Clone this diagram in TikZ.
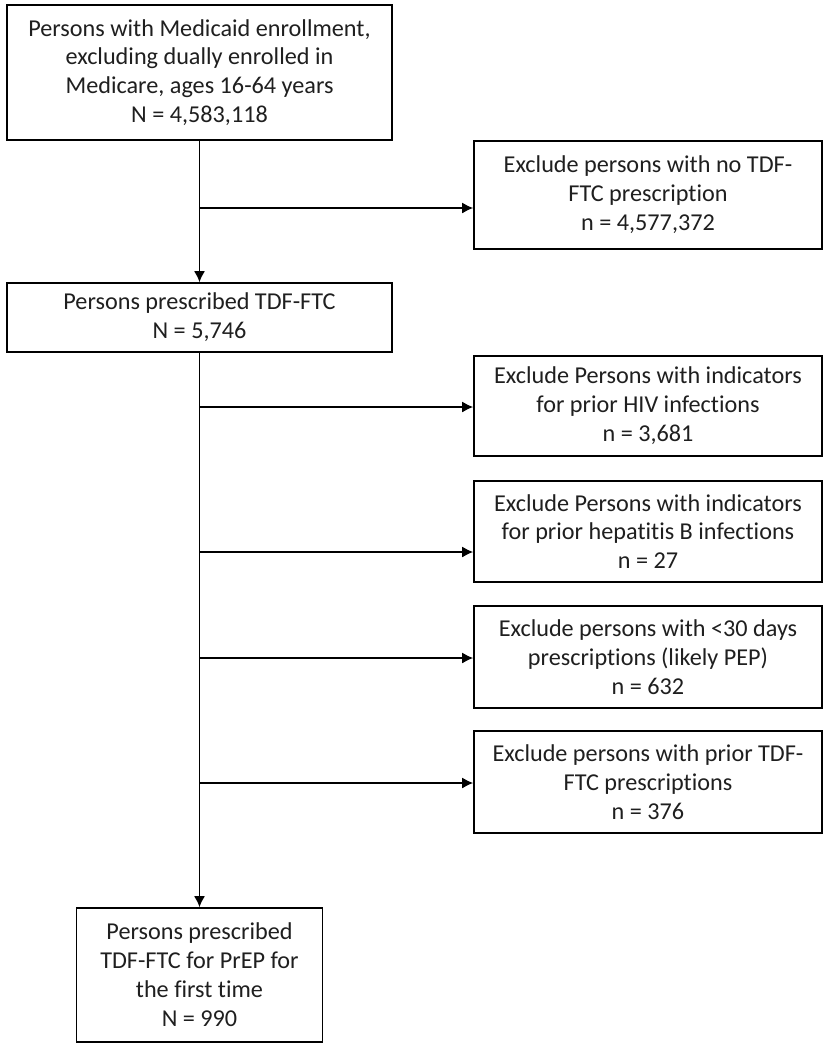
\documentclass[tikz,border=0pt]{standalone}
\usepackage{fontspec}
\setmainfont[Ligatures=NoCommon]{Carlito}
\usetikzlibrary{arrows.meta}
\tikzset{
  flow box/.style={
    draw,
    line width=1.6bp,
    rectangle,
    inner sep=0pt,
    align=center,
    text=black!88,
    font=\fontsize{24.3}{29}\selectfont,
  },
  flow line/.style={
    line width=1.6bp,
    -{Latex[length=11bp, width=11bp]},
  },
}

\begin{document}
\begin{tikzpicture}[y=-1bp, x=1bp]
        \useasboundingbox[fill=white] (0,0) rectangle (834,1050);

        \node[flow box, minimum width=385bp, minimum height=135bp] (b1) at (199.5,72.5)
          {Persons with Medicaid enrollment,\\ excluding dually enrolled in\\ Medicare, ages 16-64 years\\ N = 4,583,118};
        \node[flow box, minimum width=385bp, minimum height=69bp] (b2) at (199.5,317.5)
          {Persons prescribed TDF-FTC\\ N = 5,746};
        \node[flow box, minimum width=246bp, minimum height=134bp] (b3) at (199.5,975)
          {Persons prescribed\\ TDF-FTC for PrEP for\\ the first time\\ N = 990};

        \node[flow box, minimum width=348bp, minimum height=108bp] (x1) at (648,195)
          {Exclude persons with no TDF-\\ FTC prescription\\ n = 4,577,372};
        \node[flow box, minimum width=348bp, minimum height=100bp] (x2) at (648,406)
          {Exclude Persons with indicators\\ for prior HIV infections\\ n = 3,681};
        \node[flow box, minimum width=348bp, minimum height=101bp] (x3) at (648,531.5)
          {Exclude Persons with indicators\\ for prior hepatitis B infections\\ n = 27};
        \node[flow box, minimum width=348bp, minimum height=102bp] (x4) at (648,657)
          {Exclude persons with <30 days\\ prescriptions (likely PEP)\\ n = 632};
        \node[flow box, minimum width=348bp, minimum height=102bp] (x5) at (648,782)
          {Exclude persons with prior TDF-\\ FTC prescriptions\\ n = 376};

        \coordinate (t1) at (199.5,208);
        \coordinate (t2) at (199.5,407);
        \coordinate (t3) at (199.5,552);
        \coordinate (t4) at (199.5,658);
        \coordinate (t5) at (199.5,783);

        \draw[flow line] (b1) -- (b2);
        \draw[flow line] (b2) -- (b3);

        \draw[flow line] (t1) -- (t1 -| x1.west);
        \draw[flow line] (t2) -- (t2 -| x2.west);
        \draw[flow line] (t3) -- (t3 -| x3.west);
        \draw[flow line] (t4) -- (t4 -| x4.west);
        \draw[flow line] (t5) -- (t5 -| x5.west);
\end{tikzpicture}
\end{document}
